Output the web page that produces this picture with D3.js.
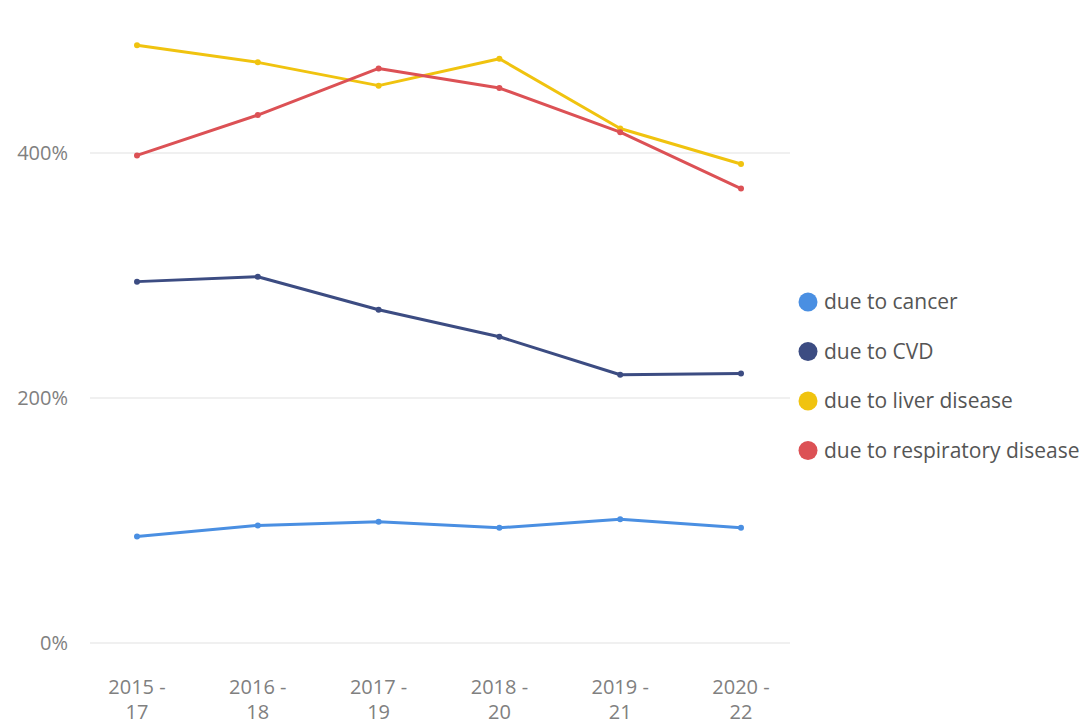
<!DOCTYPE html>
<html>
<head>
<meta charset="utf-8">
<script src="https://cdn.jsdelivr.net/npm/d3@7"></script>
<style>
body { margin:0; padding:0; background:#fff; }
svg text { font-family: "Open Sans", "Noto Sans", sans-serif; }
</style>
</head>
<body>
<div id="chart"></div>
<script>
// periods along x
var periods = ["2015 - 17", "2016 - 18", "2017 - 19", "2018 - 20", "2019 - 21", "2020 - 22"];
var seriesNames = ["due to cancer", "due to CVD", "due to liver disease", "due to respiratory disease"];
var seriesColors = ["#4a8fe2", "#3c4c82", "#f0c30f", "#dc5155"];
// values in percent
var cancer = [87, 96, 99, 94, 101, 94];
var cvd = [295, 299, 272, 250, 219, 220];
var liver = [488, 474, 455, 477, 420, 391];
var respiratory = [398, 431, 469, 453, 417, 371];
var yTicks = [0, 200, 400];

var allSeries = [cancer, cvd, liver, respiratory];
var W = 1092, H = 727;

var svg = d3.select("#chart").append("svg")
  .attr("width", W).attr("height", H);

var x = d3.scalePoint().domain(periods).range([137, 741]);
var y = d3.scaleLinear().domain([0, 400]).range([643, 153]);

// gridlines
svg.append("g").selectAll("line").data(yTicks).enter().append("line")
  .attr("x1", 90).attr("x2", 790)
  .attr("y1", function(d){ return y(d); }).attr("y2", function(d){ return y(d); })
  .attr("stroke", "#ebebeb").attr("stroke-width", 1.5);

// y labels
svg.append("g").selectAll("text").data(yTicks).enter().append("text")
  .attr("x", 68).attr("y", function(d){ return y(d); })
  .attr("dy", "0.35em").attr("text-anchor", "end")
  .attr("font-size", 20).attr("fill", "#808080")
  .text(function(d){ return d + "%"; });

// x labels (two lines)
var xl = svg.append("g").selectAll("text").data(periods).enter().append("text")
  .attr("x", function(d){ return x(d); })
  .attr("text-anchor", "middle").attr("font-size", 20).attr("fill", "#808080");
xl.append("tspan").attr("x", function(d){ return x(d); }).attr("y", 694)
  .text(function(d){ return d.split(" - ")[0] + " -"; });
xl.append("tspan").attr("x", function(d){ return x(d); }).attr("y", 719)
  .text(function(d){ return d.split(" - ")[1]; });

var line = d3.line()
  .x(function(d, i){ return x(periods[i]); })
  .y(function(d){ return y(d); });

allSeries.forEach(function(vals, k) {
  svg.append("path").datum(vals)
    .attr("d", line).attr("fill", "none")
    .attr("stroke", seriesColors[k]).attr("stroke-width", 3)
    .attr("stroke-linejoin", "round");
  svg.append("g").selectAll("circle").data(vals).enter().append("circle")
    .attr("cx", function(d, i){ return x(periods[i]); })
    .attr("cy", function(d){ return y(d); })
    .attr("r", 3).attr("fill", seriesColors[k]);
});

// legend
var lg = svg.append("g").selectAll("g").data(seriesNames).enter().append("g")
  .attr("transform", function(d, i){ return "translate(808," + (302 + i * 49.5) + ")"; });
lg.append("circle").attr("r", 9.5).attr("fill", function(d, i){ return seriesColors[i]; });
lg.append("text").attr("x", 16).attr("dy", "0.35em")
  .attr("font-size", 21).attr("fill", "#555")
  .text(function(d){ return d; });
</script>
</body>
</html>
